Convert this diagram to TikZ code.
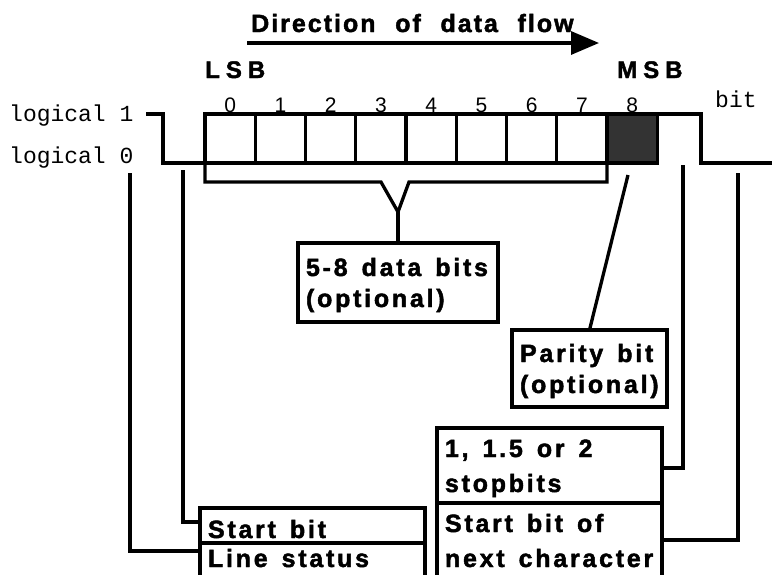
\documentclass[tikz,border=0pt]{standalone}
\usepackage{fontspec}
\setmainfont{Liberation Sans}
\newfontfamily\tfam[LetterSpace=8,WordSpace=2.2,BoldFeatures={FakeBold=1.8}]{Liberation Sans}
\newfontfamily\bfam[LetterSpace=11,BoldFeatures={FakeBold=1.8}]{Liberation Sans}
\newfontfamily\wfam[LetterSpace=25,BoldFeatures={FakeBold=1.8}]{Liberation Sans}
\newfontfamily\mfam{Liberation Mono}
\newcommand\wsp{\spaceskip=14pt plus 3pt minus 2pt\relax}
\usetikzlibrary{arrows.meta,calc}
\begin{document}
\begin{tikzpicture}[x=1pt,y=-1pt,
  lw/.style={line width=3.3pt},
  cell/.style={draw, line width=3.3pt, minimum width=50.25pt, minimum height=49pt, inner sep=0pt, outer sep=0pt},
  tag/.style={draw, line width=3.3pt, inner xsep=8pt, inner ysep=0pt, outer sep=0pt, anchor=north west, align=left},
  tagA/.style={tag, font=\bfam\bfseries\fontsize{25}{31}\selectfont},
  tagB/.style={tag, font=\bfam\bfseries\fontsize{25}{35}\selectfont},
  mono/.style={font=\mfam\fontsize{23}{23}\selectfont, anchor=base west, inner sep=0pt},
  wide/.style={font=\wfam\bfseries\fontsize{24}{24}\selectfont, anchor=base west, inner sep=0pt},
  digit/.style={font=\fontsize{21}{21}\selectfont, anchor=base, inner sep=0pt}]
\useasboundingbox (0,0) rectangle (772,574);
\clip (0,0) rectangle (772,574);

% title and arrow
\node[font=\tfam\bfseries\fontsize{25}{25}\selectfont, anchor=base west, inner sep=0pt] (title) at (251,32) {Direction of data flow};
\coordinate (a0) at (247,43);
\coordinate (a1) at (599,43);
\draw[line width=3.3pt, -{Triangle[length=28pt,width=23pt]}] (a0) -- (a1);

% LSB / MSB
\node[wide] (lsb) at (205,78) {LSB};
\node[wide] (msb) at (617,78) {MSB};

% levels
\node[mono] (l1) at (9,121) {logical 1};
\node[mono] (l0) at (9,163) {logical 0};
\node[mono] (bitlbl) at (715,107) {bit};

% cells
\foreach \i in {0,...,7}
  \node[cell] (c\i) at ({205+50.25*(\i+0.5)},138.5) {};
\node[cell, fill=black!80] (c8) at ({205+50.25*8.5},138.5) {};
\foreach \i in {0,...,8}
  \node[digit] (n\i) at ({205+50.25*(\i+0.5)},112) {\i};

% waveform
\coordinate (w0) at (146,114);
\coordinate (w9) at (772,163);
\draw[lw] (w0) -- (163,114) -- (163,163) -- (c0.south west);
\draw[lw] (c8.north east) -- (701,114) -- (701,163) -- (w9);

% bracket
\coordinate (vpt) at (398,212);
\draw[lw] (c0.south west) -- (205,182) -- (381,182) -- (vpt) -- (409,182) -- (c7.south east |- 0,182) -- (c7.south east);

% label boxes
\node[tagA, text width=184pt, text height=33pt, text depth=46pt] (data) at (298,243) {\wsp 5-8 data bits\\(optional)};
\node[tagA, text width=139pt, text height=32pt, text depth=45pt] (parity) at (512,330) {\wsp Parity bit\\(optional)};
\node[tagB, text width=209pt, text height=29pt, text depth=46pt] (stop) at (437,428) {\wsp 1, 1.5 or 2\\stopbits};
\node[tagB, text width=209pt, text height=29pt, text depth=51pt] (next) at (437,503) {\wsp Start bit of\\next character};
\node[tagA, text width=209pt, text height=30pt, text depth=5pt] (sb) at (200,508) {\wsp Start bit};
\node[tagA, text width=209pt, text height=24pt, text depth=16pt] (ls) at (200,543) {\wsp Line status};

% connectors
\draw[lw] (vpt) -- (data.north);
\coordinate (pTop) at (628,175);
\draw[lw] (pTop) -- (parity.north);
\coordinate (lsTop) at (130,173);
\draw[lw] (lsTop) |- ([yshift=-8pt]ls.north west);
\coordinate (sbTop) at (183,170);
\draw[lw] (sbTop) |- ([yshift=-14pt]sb.north west);
\coordinate (stTop) at (683,165);
\draw[lw] (stTop) |- ([yshift=-40pt]stop.north east);
\coordinate (ncTop) at (738,173);
\draw[lw] (ncTop) |- ([yshift=-37pt]next.north east);
\end{tikzpicture}
\end{document}
